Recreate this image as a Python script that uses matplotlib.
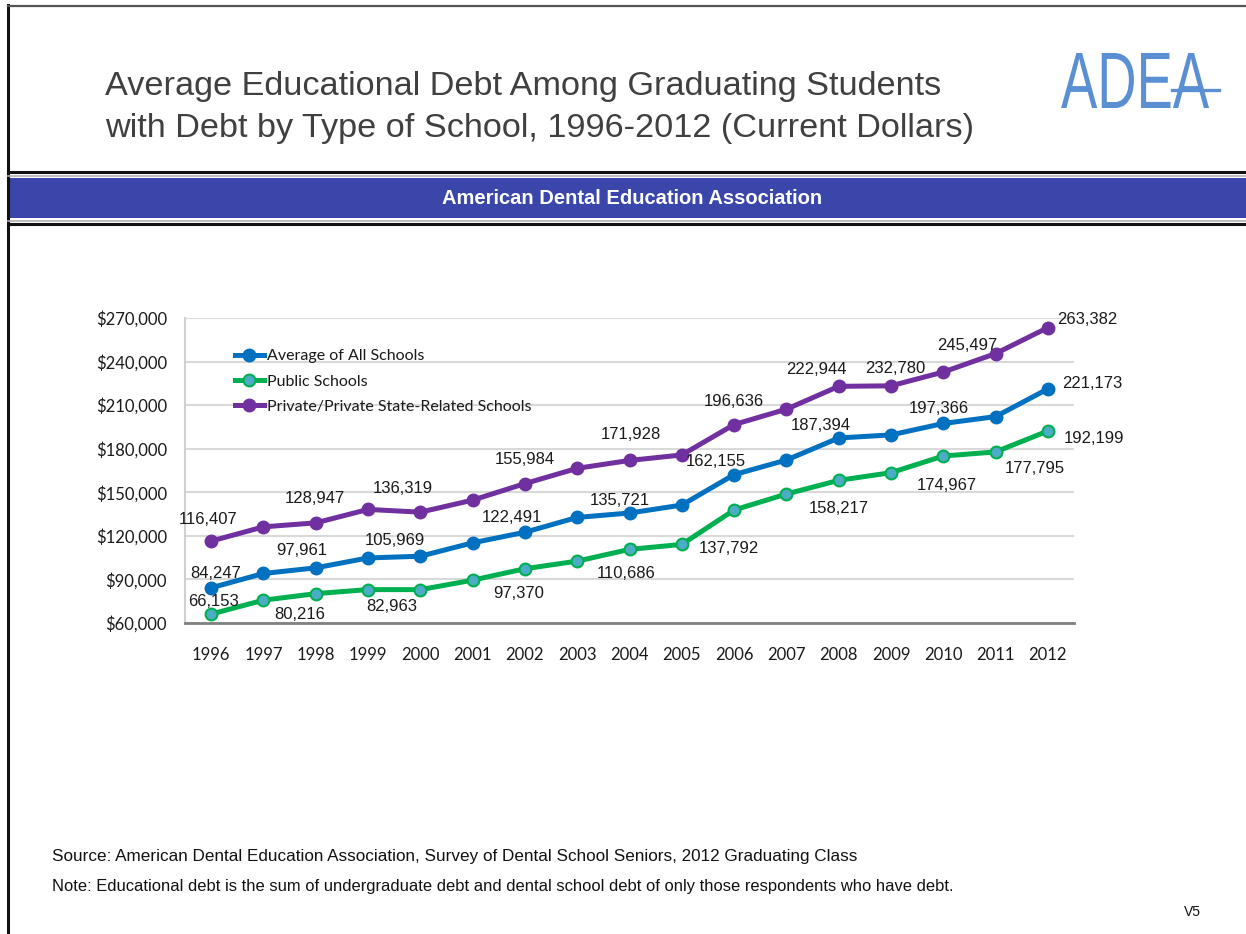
import matplotlib
matplotlib.use("Agg")
import matplotlib.pyplot as plt
from matplotlib.textpath import TextPath
from matplotlib.patches import PathPatch, Rectangle
from matplotlib.font_manager import FontProperties
from matplotlib.transforms import Affine2D
from matplotlib.lines import Line2D

years = list(range(1996, 2013))
avg_all = [84247, 94100, 97961, 104800, 105969, 115200, 122491, 132700, 135721,
           141200, 162155, 172200, 187394, 189500, 197366, 202100, 221173]
public = [66153, 75700, 80216, 83000, 82963, 89500, 97370, 102600, 110686,
          114100, 137792, 148800, 158217, 163500, 174967, 177795, 192199]
private = [116407, 126200, 128947, 138200, 136319, 144600, 155984, 166500, 171928,
           175700, 196636, 207200, 222944, 223300, 232780, 245497, 263382]

series_names = ["Average of All Schools", "Public Schools",
                "Private/Private State-Related Schools"]
yticks = [60000, 90000, 120000, 150000, 180000, 210000, 240000, 270000]

# which points carry a value label
avg_labeled = [1996, 1998, 2000, 2002, 2004, 2006, 2008, 2010, 2012]
public_labeled = [1996, 1998, 2000, 2002, 2004, 2006, 2008, 2010, 2011, 2012]
private_labeled = [1996, 1998, 2000, 2002, 2004, 2006, 2008, 2010, 2011, 2012]

# label offsets in pixels (dx right, dy down), style only
avg_off = [(5, -14), (-14, -17), (-25, -16), (-13, -15), (-10, -13), (-18, -13),
           (-18, -12), (-4, -15), (14, -5)]
public_off = [(2, -13), (-16, 21), (-29, 17), (-6, 25), (-3, 24), (-5, 38),
              (0, 28), (4, 29), (39, 17), (16, 8)]
private_off = [(-3, -22), (-1, -24), (-18, -24), (0, -24), (1, -26), (0, -23),
               (-22, -17), (-48, -4), (-28, -8), (9, -8)]

W, H = 1246, 934


def fx(x):
    return x / W


def fy(y):
    return 1 - y / H


fig = plt.figure(figsize=(W / 100, H / 100), dpi=100)
fig.patch.set_facecolor("white")

# slide frame
fig.add_artist(Line2D([fx(8), fx(8)], [fy(5), fy(934)], color="#111111", lw=2.2))
fig.add_artist(Line2D([fx(8), fx(1246)], [fy(6), fy(6)], color="#555555", lw=1.6))

# title
fig.text(fx(105), fy(87), "Average Educational Debt Among Graduating Students",
         fontsize=24.7, color="#404040", family="Liberation Sans", va="center")
fig.text(fx(105), fy(129), "with Debt by Type of School, 1996-2012 (Current Dollars)",
         fontsize=24.7, color="#404040", family="Liberation Sans", va="center")

# ADEA logo
fp = FontProperties(family="Liberation Sans")
tp = TextPath((0, 0), "ADEA", size=80, prop=fp)
tr = Affine2D().scale(0.68, 1.0).translate(1061, H - 108)
logo = PathPatch(tr.transform_path(tp), facecolor="#5b8fd3", edgecolor="none",
                 transform=None)
fig.add_artist(logo)
fig.add_artist(Line2D([fx(1172), fx(1219)], [fy(90), fy(90)], color="#5b8fd3", lw=2.4))

# blue band
fig.add_artist(Line2D([fx(8), fx(1246)], [fy(172), fy(172)], color="#111111", lw=2.2))
fig.add_artist(Line2D([fx(8), fx(1246)], [fy(175.5), fy(175.5)], color="#b0b0b0", lw=1.2))
fig.add_artist(Rectangle((fx(8), fy(218)), fx(1246) - fx(8), fy(178) - fy(218),
                         transform=fig.transFigure, facecolor="#3a46a9", edgecolor="none"))
fig.add_artist(Line2D([fx(8), fx(1246)], [fy(220.5), fy(220.5)], color="#b0b0b0", lw=1.2))
fig.add_artist(Line2D([fx(8), fx(1246)], [fy(224), fy(224)], color="#111111", lw=2.2))
fig.text(fx(632), fy(199), "American Dental Education Association", color="white",
         fontsize=14.5, fontweight="bold", family="Liberation Sans",
         ha="center", va="center")

# chart
ax = fig.add_axes([fx(185), fy(623), fx(1074) - fx(185), fy(318) - fy(623)])
colors = ["#0070c0", "#00b050", "#7030a0"]
faces = ["#0070c0", "#4bacc6", "#7030a0"]
data = [avg_all, public, private]
for vals, c, fc, name in zip(data, colors, faces, series_names):
    ax.plot(years, vals, color=c, lw=3.6, marker="o", markersize=8.5,
            markerfacecolor=fc, markeredgecolor=c, markeredgewidth=1.5,
            label=name, zorder=3)

for vals, labeled, offs in [(avg_all, avg_labeled, avg_off),
                            (public, public_labeled, public_off),
                            (private, private_labeled, private_off)]:
    for yr, (dx, dy) in zip(labeled, offs):
        v = vals[years.index(yr)]
        ha = "left" if yr == 2012 else "center"
        ax.annotate(f"{v:,}", (yr, v), xytext=(dx * 0.72, -dy * 0.72),
                    textcoords="offset points", ha=ha, va="center",
                    fontsize=12, color="#1a1a1a", family="Liberation Sans",
                    zorder=4)

ax.set_xlim(1995.5, 2012.5)
ax.set_ylim(60000, 270000)
ax.set_yticks(yticks)
ax.set_yticklabels([f"${v:,}" for v in yticks], family="Lato",
                   fontsize=12, color="#1a1a1a")
ax.set_xticks(years)
ax.set_xticklabels([str(y) for y in years], family="Lato",
                   fontsize=12, color="#1a1a1a")
ax.tick_params(axis="y", length=0, pad=13)
ax.tick_params(axis="x", length=0, pad=17)
ax.grid(axis="y", color="#d9d9d9", lw=1.5)
ax.set_axisbelow(True)
for s in ["top", "right"]:
    ax.spines[s].set_visible(False)
ax.spines["left"].set_color("#d0d0d0")
ax.spines["left"].set_linewidth(1.5)
ax.spines["bottom"].set_color("#808080")
ax.spines["bottom"].set_linewidth(2)

leg = ax.legend(loc="upper left", bbox_to_anchor=(0.04, 0.945), frameon=False,
                handlelength=1.8, handletextpad=0.2, labelspacing=0.7,
                prop={"family": "Lato", "size": 11.5})
for t in leg.get_texts():
    t.set_color("#1a1a1a")

# footnotes
fig.text(fx(52), fy(856), "Source: American Dental Education Association, Survey of Dental "
         "School Seniors, 2012 Graduating Class", fontsize=12.35, color="#111111",
         family="Liberation Sans", va="center")
fig.text(fx(52), fy(886), "Note: Educational debt is the sum of undergraduate debt and dental "
         "school debt of only those respondents who have debt.", fontsize=11.85,
         color="#111111", family="Liberation Sans", va="center")
fig.text(fx(1184), fy(912), "V5", fontsize=10, color="#111111",
         family="Liberation Sans", va="center")

fig.savefig("out.png", dpi=100)
